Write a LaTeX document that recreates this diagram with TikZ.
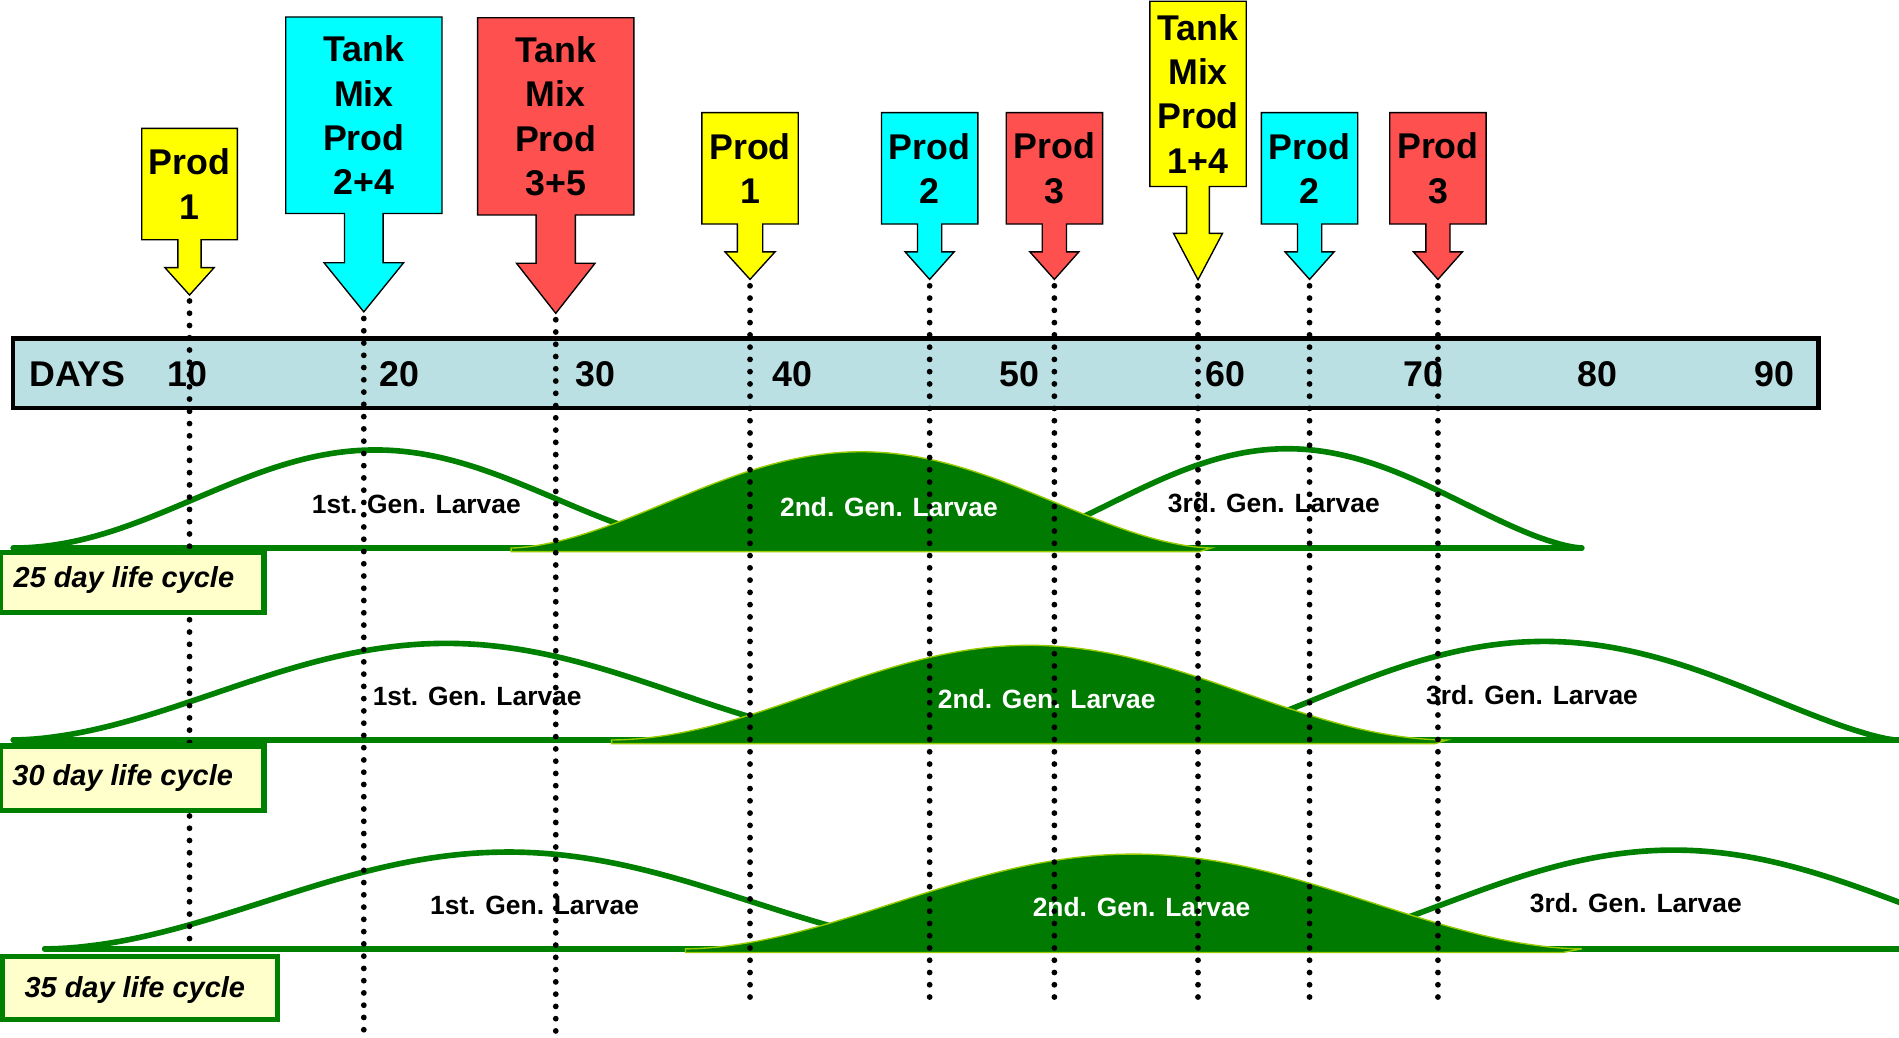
\documentclass[tikz,border=0pt]{standalone}
\usepackage{fontspec}
\setmainfont{Liberation Sans}
\usetikzlibrary{calc}

\definecolor{prodyellow}{RGB}{255,255,0}
\definecolor{prodcyan}{RGB}{0,255,255}
\definecolor{prodred}{RGB}{255,80,80}
\definecolor{daysblue}{RGB}{187,224,227}
\definecolor{larvagreen}{RGB}{0,128,0}
\definecolor{gendark}{RGB}{0,122,0}
\definecolor{genedge}{RGB}{153,204,0}
\definecolor{cyclefill}{RGB}{255,255,204}

\tikzset{
  arrowline/.style={draw=black, line width=0.8pt, line join=miter},
  prodtext/.style={align=center, inner sep=0pt, font=\fontsize{21}{26}\selectfont\bfseries},
  daytext/.style={anchor=base, inner sep=0pt, font=\fontsize{21}{26}\selectfont\bfseries},
  larva/.style={draw=larvagreen, line width=3.3pt, line cap=round},
  genfill/.style={fill=gendark, draw=genedge, line width=0.8pt},
  larvatext/.style={inner sep=0pt, font=\fontsize{15.5}{18}\selectfont\bfseries},
  dotline/.style={line width=3.4pt, line cap=round, dash pattern=on 0pt off 7.2pt},
  cyclebox/.style={draw=larvagreen, fill=cyclefill, line width=3pt},
  cycletext/.style={anchor=base west, inner sep=0pt, font=\fontsize{17}{20}\selectfont\bfseries\itshape},
}

% arrow: colour, centre x, box top, box bottom, half box, half shaft, half head, head top, tip
\newcommand{\prodarrow}[9]{%
  \draw[arrowline, fill=#1] (#2-#5,#3) -- (#2+#5,#3) -- (#2+#5,#4) -- (#2+#6,#4) -- (#2+#6,#8)
    -- (#2+#7,#8) -- (#2,#9) -- (#2-#7,#8) -- (#2-#6,#8) -- (#2-#6,#4) -- (#2-#5,#4) -- cycle;}

% bell: start x, width, base y, height, power
\newcommand{\bell}[5]{(#1,#3) -- plot[domain=0.002:0.998, samples=90] ({#1+\x*#2},{#3-#4*pow(sin(180*\x),#5)}) -- ({#1+#2},#3)}

\begin{document}
\begin{tikzpicture}[x=0.025cm, y=-0.025cm]
\clip (0,0) rectangle (1568,857);
\fill[white] (0,0) rectangle (1568,857);

% days bar
\draw[fill=daysblue, line width=2.4pt] (11,279.5) rectangle (1501.5,337);
\node[daytext, anchor=base west] (days) at (24,319) {DAYS};
\node[daytext] (d10) at (155,319) {10};
\node[daytext] (d20) at (330,319) {20};
\node[daytext] (d30) at (492,319) {30};
\node[daytext] (d40) at (654,319) {40};
\node[daytext] (d50) at (842,319) {50};
\node[daytext] (d60) at (1012,319) {60};
\node[daytext] (d70) at (1175,319) {70};
\node[daytext] (d80) at (1319,319) {80};
\node[daytext] (d90) at (1465,319) {90};

% Prod 1
\prodarrow{prodyellow}{156.5}{106}{198}{39.5}{9.6}{20.3}{221}{243.6}
\node[prodtext] (p1a) at (156.5,152) {Prod\\1};
\coordinate (p1a-tip) at (156.5,248.5);
% Tank Mix 2+4
\prodarrow{prodcyan}{300.4}{14}{176.3}{64.5}{15.9}{32.8}{217}{257.5}
\node[prodtext] (t24) at (300.4,95.3) {Tank\\Mix\\Prod\\2+4};
\coordinate (t24-tip) at (300.4,263);
% Tank Mix 3+5
\prodarrow{prodred}{458.9}{14.6}{177.5}{64.5}{16.2}{32.4}{217.4}{258.7}
\node[prodtext] (t35) at (458.9,96) {Tank\\Mix\\Prod\\3+5};
\coordinate (t35-tip) at (458.9,264);
% Prod 1
\prodarrow{prodyellow}{619.3}{93}{185}{39.8}{10.5}{20.6}{208}{230.7}
\node[prodtext] (p1b) at (619.3,139) {Prod\\1};
\coordinate (p1b-tip) at (619.3,236);
% Prod 2
\prodarrow{prodcyan}{767.6}{93}{185}{39.8}{10}{20.2}{208}{230.7}
\node[prodtext] (p2a) at (767.6,139) {Prod\\2};
\coordinate (p2a-tip) at (767.6,236);
% Prod 3
\prodarrow{prodred}{870.6}{93}{185}{39.8}{10}{20.2}{208}{230.7}
\node[prodtext] (p3a) at (870.6,139) {Prod\\3};
\coordinate (p3a-tip) at (870.6,236);
% Tank Mix 1+4
\prodarrow{prodyellow}{989.2}{1}{154}{39.8}{9.4}{20.2}{192.7}{231}
\node[prodtext] (t14) at (989.2,77.5) {Tank\\Mix\\Prod\\1+4};
\coordinate (t14-tip) at (989.2,236);
% Prod 2
\prodarrow{prodcyan}{1081.3}{93}{185}{39.8}{10}{20.2}{208}{230.7}
\node[prodtext] (p2b) at (1081.3,139) {Prod\\2};
\coordinate (p2b-tip) at (1081.3,236);
% Prod 3
\prodarrow{prodred}{1187.3}{93}{185}{39.8}{10}{20.2}{208}{230.7}
\node[prodtext] (p3b) at (1187.3,139) {Prod\\3};
\coordinate (p3b-tip) at (1187.3,236);

% 25 day
\draw[larva] (11,452.5) -- (1306,452.5);
\draw[larva] \bell{11}{598}{452.5}{81}{2};
\draw[larva] \bell{820}{486}{452.5}{82}{1.5};
\filldraw[genfill] (422,455.5) -- \bell{422}{578}{452.5}{79.5}{1.7} -- (990,455.5) -- cycle;
\node[larvatext] (g1a) at (343.8,416.3) {1st. Gen. Larvae};
\node[larvatext, text=white] (g2a) at (734,418.6) {2nd. Gen. Larvae};
\node[larvatext] (g3a) at (1051.8,415.3) {3rd. Gen. Larvae};

% 30 day
\draw[larva] (11,611) -- (1580,611);
\draw[larva] \bell{11}{715}{611}{79.8}{1.8};
\draw[larva] \bell{985}{580}{611}{81.4}{1.35};
\filldraw[genfill] (505,614) -- \bell{505}{690}{611}{78.2}{1.9} -- (1185,614) -- cycle;
\node[larvatext] (g1b) at (394,575.3) {1st. Gen. Larvae};
\node[larvatext, text=white] (g2b) at (864.3,576.9) {2nd. Gen. Larvae};
\node[larvatext] (g3b) at (1265,573.6) {3rd. Gen. Larvae};

% 35 day
\draw[larva] (37,783.5) -- (1580,783.5);
\draw[larva] \bell{37}{765}{783.5}{80}{1.85};
\draw[larva] \bell{1064}{636}{783.5}{81.6}{1.5};
\filldraw[genfill] (566,786.5) -- \bell{566}{740}{783.5}{78.3}{1.8} -- (1290,786.5) -- cycle;
\node[larvatext] (g1c) at (441.4,747.6) {1st. Gen. Larvae};
\node[larvatext, text=white] (g2c) at (942.6,748.9) {2nd. Gen. Larvae};
\node[larvatext] (g3c) at (1350.7,745.7) {3rd. Gen. Larvae};

% dotted lines
\coordinate (end3) at (0,784);
\coordinate (endlow) at (0,827);
\coordinate (endbot) at (0,860);
\draw[dotline] (p1a-tip) -- (p1a-tip |- end3);
\draw[dotline] (t24-tip) -- (t24-tip |- endbot);
\draw[dotline] (t35-tip) -- (t35-tip |- endbot);
\draw[dotline] (p1b-tip) -- (p1b-tip |- endlow);
\draw[dotline] (p2a-tip) -- (p2a-tip |- endlow);
\draw[dotline] (p3a-tip) -- (p3a-tip |- endlow);
\draw[dotline] (t14-tip) -- (t14-tip |- endlow);
\draw[dotline] (p2b-tip) -- (p2b-tip |- endlow);
\draw[dotline] (p3b-tip) -- (p3b-tip |- endlow);

% life cycle labels
\draw[cyclebox] (0,456) rectangle (218,506);
\node[cycletext] (c25) at (11,485.5) {25 day life cycle};
\draw[cyclebox] (0,616) rectangle (218,669);
\node[cycletext] (c30) at (10,648.7) {30 day life cycle};
\draw[cyclebox] (2,790) rectangle (229,842);
\node[cycletext] (c35) at (20,824) {35 day life cycle};
\end{tikzpicture}
\end{document}
